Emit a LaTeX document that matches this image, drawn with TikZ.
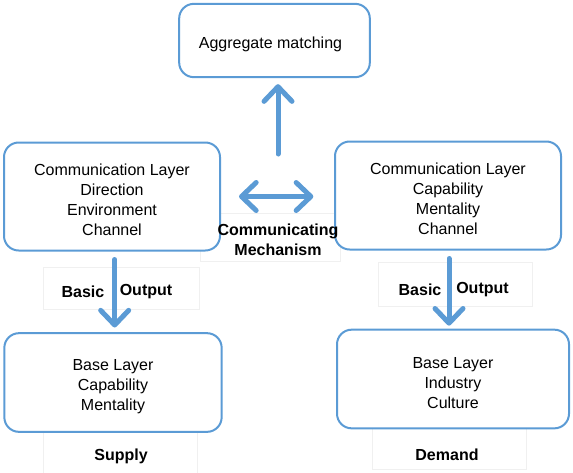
\documentclass[tikz,border=0pt]{standalone}
\usepackage{fontspec}
\setmainfont{Liberation Sans}
\usetikzlibrary{arrows.meta}
\usetikzlibrary{positioning}
\definecolor{layerblue}{HTML}{5B9BD5}
\newcommand{\toppad}{\rule{0pt}{14pt}}
\tikzstyle{layer_node} = [
    rounded corners=11pt, 
    draw=layerblue, 
    line width=1.5pt, 
    fill=white,
    align=center, 
    font=\fontsize{12}{15}\selectfont
]
\tikzstyle{faint_box} = [
    draw=black!6, 
    line width=0.75pt, 
    inner sep=0pt
]
\tikzstyle{tag} = [
    font=\fontsize{12}{15}\selectfont\bfseries, 
    align=center, 
    inner sep=0pt
]
\tikzstyle{flow} = [
    draw=layerblue, 
    line width=3.75pt, 
    line cap=round,
    arrows={-Straight Barb[length=11pt, width=21pt, round]}
]

\begin{document}
\begin{tikzpicture}[x=0.75pt, y=-0.75pt]
\useasboundingbox (0,0) rectangle (573,472);

% faint frames behind the labels
\node [faint_box, minimum width=117pt, minimum height=32pt] (boxL) at (121,288.5) {};
\node [faint_box, minimum width=115.5pt, minimum height=33pt] (boxR) at (455,284) {};
\node [faint_box, minimum width=115.5pt, minimum height=33pt] (supbox) at (120,454) {};
\node [faint_box, minimum width=115.5pt, minimum height=31pt] (dembox) at (449,449) {};
\node [faint_box, minimum width=105pt, minimum height=36pt] (mechbox) at (270,237) {};

% layers
\node [layer_node, minimum width=143pt, minimum height=55pt] (agg) at (274.5,40.5) {\toppad Aggregate matching\hspace{6pt}};
\node [layer_node, minimum width=162pt, minimum height=81pt] (commL) at (112,196.5)
    {\toppad Communication Layer\\Direction\\Environment\\Channel};
\node [layer_node, minimum width=169.5pt, minimum height=81pt] (commR) at (448,195.5)
    {\toppad Communication Layer\\Capability\\Mentality\\Channel};
\node [layer_node, minimum width=163pt, minimum height=74pt] (baseL) at (113,382.5)
    {\toppad Base Layer\\Capability\\Mentality};
\node [layer_node, minimum width=174pt, minimum height=74pt] (baseR) at (453,379)
    {\toppad Base Layer\\Industry\\Culture};

% labels
\node [tag] (mech) at (278,240) {Communicating\\Mechanism};
\node [tag] (basicL) at (83,292) {Basic};
\node [tag] (outL) at (146,292) {Output};
\node [tag] (basicR) at (420,290) {Basic};
\node [tag] (outR) at (482.5,290) {Output};
\node [tag] (supply) at (121,456) {Supply};
\node [tag] (demand) at (447,455) {Demand};

% arrows
\coordinate (hub) at (278,154);
\draw [flow] (hub) -- (hub |- agg.south) [shorten >=4.5pt];
\draw [flow, {Straight Barb[length=11pt, width=21pt, round]}-{Straight Barb[length=11pt, width=21pt, round]}, shorten <=13.5pt, shorten >=15.5pt]
    (commL.east) -- (commL.east -| commR.west);
\draw [flow, shorten <=6pt, shorten >=3.5pt]
    ([xshift=2pt]commL.south) -- ([xshift=2pt]commL.south |- baseL.north);
\draw [flow, shorten <=6pt, shorten >=2.25pt]
    ([xshift=0.75pt]commR.south) -- ([xshift=0.75pt]commR.south |- baseR.north);
\end{tikzpicture}
\end{document}
